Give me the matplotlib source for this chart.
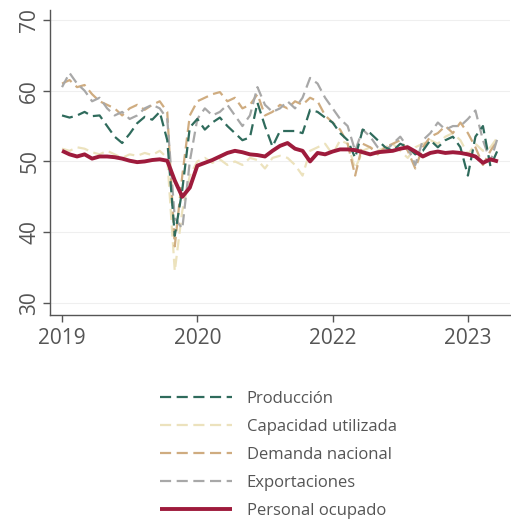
import matplotlib
matplotlib.use("Agg")
import matplotlib.pyplot as plt
import numpy as np

plt.rcParams['font.family'] = ['Open Sans', 'DejaVu Sans']

# Monthly observations, Jan 2019 .. Nov 2023 (month index 0..58)
produccion = [56.5, 56.2, 56.5, 57.0, 56.4, 56.5, 55.0, 53.5, 52.6, 53.9,
              55.4, 56.3, 55.9, 57.0, 53.0, 39.5, 46.0, 54.8, 56.0, 54.5,
              55.5, 56.2, 55.0, 54.0, 53.0, 53.4, 58.3, 55.0, 52.1, 54.3,
              54.3, 54.3, 54.0, 57.3, 57.0, 56.2, 55.5, 54.0, 53.0, 50.5,
              54.5, 54.0, 53.0, 52.0, 51.5, 52.5, 52.0, 51.0, 51.5, 53.0,
              52.0, 53.0, 53.5, 52.0, 48.0, 53.5, 55.0, 49.3, 51.7]
capacidad = [51.8, 51.5, 52.0, 51.8, 51.3, 51.0, 51.5, 51.0, 50.5, 51.0,
             50.8, 51.2, 50.9, 51.5, 50.5, 34.5, 43.0, 48.0, 50.0, 50.5,
             49.8, 50.3, 49.5, 50.0, 49.5, 50.5, 50.2, 49.0, 50.5, 50.8,
             50.5, 49.5, 48.0, 51.5, 52.0, 52.5, 51.0, 53.0, 52.5, 49.0,
             51.5, 52.0, 51.5, 52.0, 52.5, 51.5, 50.5, 52.0, 52.5, 53.0,
             52.5, 53.5, 54.0, 53.0, 51.0, 52.5, 51.5, 52.0, 53.5]
demanda = [61.0, 61.5, 60.5, 60.8, 59.5, 58.5, 58.0, 57.5, 56.5, 57.5,
           58.0, 57.3, 58.0, 58.5, 57.0, 38.0, 48.0, 56.5, 58.5, 59.0,
           59.5, 59.8, 58.5, 59.0, 57.5, 58.0, 59.5, 56.5, 57.0, 58.0,
           57.5, 58.5, 58.0, 59.0, 58.5, 56.5, 55.5, 54.5, 52.5, 48.0,
           52.5, 52.0, 51.0, 52.0, 52.5, 53.0, 51.5, 49.0, 52.0, 53.5,
           54.0, 55.0, 54.0, 55.5, 54.0, 52.0, 49.5, 51.5, 53.0]
exportaciones = [60.5, 62.5, 61.0, 60.0, 58.5, 59.0, 57.5, 56.5, 57.0, 56.0,
                 56.5, 57.5, 58.0, 57.5, 56.0, 42.0, 40.5, 50.0, 56.0, 57.5,
                 56.5, 57.0, 58.0, 56.5, 55.0, 56.5, 60.5, 58.0, 57.0, 57.5,
                 58.5, 57.5, 59.0, 61.8, 61.0, 59.0, 57.5, 56.0, 55.0, 51.5,
                 54.5, 53.5, 52.0, 51.5, 52.5, 53.5, 52.0, 49.5, 53.0, 54.0,
                 55.5, 54.5, 55.0, 55.0, 56.0, 57.2, 53.0, 50.0, 53.5]
personal = [51.5, 51.0, 50.7, 51.0, 50.4, 50.7, 50.7, 50.6, 50.4, 50.1,
            49.9, 50.0, 50.2, 50.3, 50.1, 47.3, 45.0, 46.3, 49.4, 49.8,
            50.2, 50.7, 51.2, 51.5, 51.3, 51.0, 50.9, 50.7, 51.5, 52.2,
            52.6, 51.8, 51.5, 50.0, 51.2, 51.0, 51.4, 51.7, 51.7, 51.6,
            51.3, 51.0, 51.3, 51.4, 51.5, 51.8, 52.0, 51.4, 50.7, 51.2,
            51.4, 51.2, 51.3, 51.2, 51.0, 50.7, 49.8, 50.3, 50.0]

tick_pos = [0, 18, 36, 54]
tick_labels = ["2019", "2020", "2022", "2023"]
y_ticks = [30, 40, 50, 60, 70]

labels = ["Producción", "Capacidad utilizada", "Demanda nacional",
          "Exportaciones", "Personal ocupado"]
colors = ["#2f6b5c", "#ece2bd", "#cfac80", "#a8a8a8", "#9e1b3c"]

x = np.arange(len(personal))

fig = plt.figure(figsize=(5.11, 5.23), dpi=100)
ax = fig.add_axes([50/511, 1-315/523, 460/511, 305/523])

series = [produccion, capacidad, demanda, exportaciones]
order = [1, 2, 3, 0]
handles = {}
for i in order:
    h, = ax.plot(x, series[i], color=colors[i], lw=1.6, ls=(0, (5, 2.5)))
    handles[i] = h
hp, = ax.plot(x, personal, color=colors[4], lw=2.8, solid_capstyle='butt')
handles[4] = hp

ax.set_ylim(28.3, 71.4)
ax.set_xlim(-1.6, 59.6)
ax.set_yticks(y_ticks)
ax.set_yticklabels([str(v) for v in y_ticks], rotation=90, va='center')
ax.set_xticks(tick_pos)
ax.set_xticklabels(tick_labels)
ax.grid(axis='y', color='#efefef', lw=0.8)
ax.set_axisbelow(True)
for s in ['top', 'right']:
    ax.spines[s].set_visible(False)
for s in ['left', 'bottom']:
    ax.spines[s].set_color('#555555')
    ax.spines[s].set_linewidth(1.0)
ax.tick_params(axis='both', colors='#555555', labelcolor='#555555',
               labelsize=15, length=5, width=1.0)
ax.tick_params(axis='y', pad=2)
ax.tick_params(axis='x', pad=4)

leg = fig.legend([handles[i] for i in range(5)], labels,
                 loc='upper left', bbox_to_anchor=(160/511, 1-391/523),
                 frameon=False, fontsize=12, handlelength=4.3,
                 labelspacing=0.72, handletextpad=0.9, borderpad=0,
                 borderaxespad=0)
for t in leg.get_texts():
    t.set_color('#555555')

fig.savefig("out.png", dpi=100)
